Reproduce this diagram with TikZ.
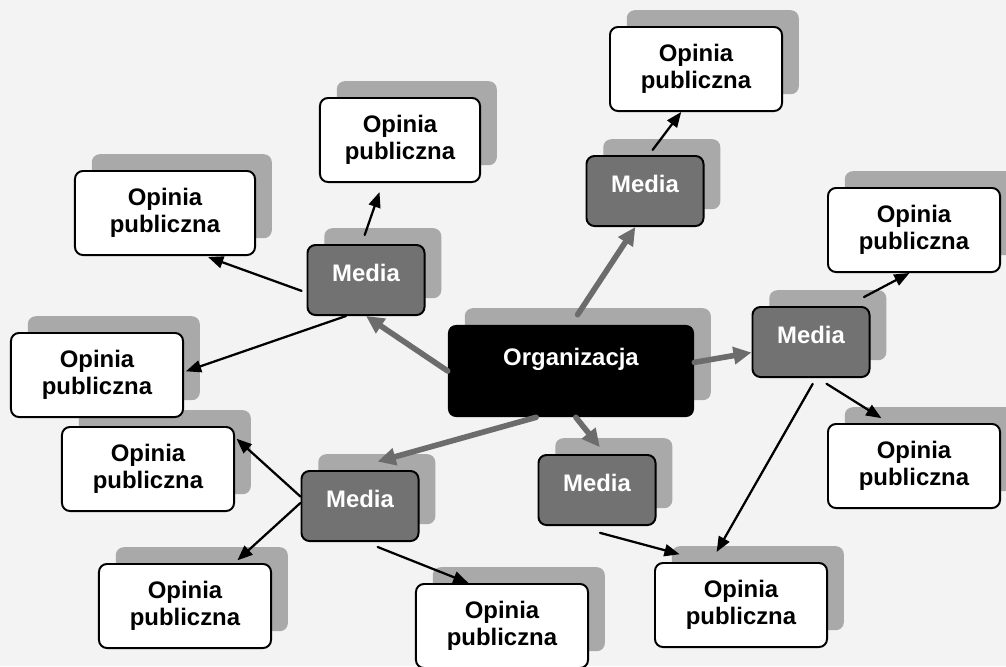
\documentclass[tikz,border=0pt]{standalone}
\usepackage{fontspec}
\setmainfont{Liberation Sans}
\usetikzlibrary{arrows.meta}
\usetikzlibrary{shadows}
\definecolor{paper}{HTML}{F3F3F3}
\definecolor{shade}{HTML}{A9A9A9}
\definecolor{mediafill}{HTML}{727272}
\definecolor{linkgray}{HTML}{6C6C6C}

\begin{document}
\begin{tikzpicture}[x=0.025cm, y=-0.025cm, line cap=round, line join=round, >=Triangle,
  font=\fontsize{17}{19.5}\selectfont\bfseries,
  box/.style={rounded corners=0.2cm, inner sep=0pt, align=center,
    copy shadow={shadow xshift=0.42cm, shadow yshift=0.42cm, fill=shade, draw=none}},
  org/.style={box, fill=black, text=white, minimum width=6.15cm, minimum height=2.3cm,
    text height=13pt, text depth=21pt},
  media/.style={box, draw=black, line width=1.4pt, fill=mediafill, text=white,
    minimum width=2.925cm, minimum height=1.75cm, text height=12.5pt, text depth=10pt},
  opinia/.style={box, draw=black, line width=1.4pt, fill=white,
    minimum width=4.3cm, minimum height=2.1cm},
  mainlink/.style={-{Triangle[length=0.45cm, width=0.42cm]}, draw=linkgray, line width=4pt},
  sublink/.style={-{Triangle[length=0.38cm, width=0.3cm]}, draw=black, line width=1.6pt}]
  \fill[paper] (0,0) rectangle (1006,666);
  \useasboundingbox (0,0) rectangle (1006,666);

  \node[org] (org) at (571,371) {Organizacja};

  \node[media] (m1) at (366,280) {Media};
  \node[media] (m2) at (645,191) {Media};
  \node[media] (m3) at (811,342) {Media};
  \node[media] (m4) at (360,506) {Media};
  \node[media] (m5) at (597,490) {Media};

  \node[opinia] (o1) at (696,69) {Opinia\\publiczna};
  \node[opinia, minimum width=4cm] (o2) at (400,140) {Opinia\\publiczna};
  \node[opinia, minimum width=4.5cm] (o3) at (165,213) {Opinia\\publiczna};
  \node[opinia] (o5) at (148,469) {Opinia\\publiczna};
  \node[opinia] (o4) at (97,375) {Opinia\\publiczna};
  \node[opinia] (o6) at (185,606) {Opinia\\publiczna};
  \node[opinia] (o7) at (502,626) {Opinia\\publiczna};
  \node[opinia] (o8) at (741,605) {Opinia\\publiczna};
  \node[opinia] (o9) at (914,466) {Opinia\\publiczna};
  \node[opinia] (o10) at (914,230) {Opinia\\publiczna};

  % organizacja -> media
  \draw[mainlink] (org.west) -- (m1.south);
  \draw[mainlink, shorten <=0.3cm] (org.north) -- (m2.-105);
  \draw[mainlink] (org.4) -- (m3.190);
  \draw[mainlink, shorten >=0.78cm] (org.-127) -- (m4.109);
  \draw[mainlink, shorten >=0.22cm] (org.-84) -- (m5.77);

  % media -> opinia publiczna
  \draw[sublink, shorten <=0.24cm, shorten >=0.24cm] (m1.97) -- (o2.-112);
  \draw[sublink, shorten <=0.13cm, shorten >=0.08cm] (m1.192) -- (o3.-47);
  \draw[sublink, shorten >=0.05cm] (m1.-119) -- (o4.2);
  \draw[sublink, shorten <=0.16cm] (m2.84) -- (o1.-109);
  \draw[sublink, shorten <=0.48cm] (m3.45) -- (o10.-96);
  \draw[sublink, shorten <=0.27cm, shorten >=0.23cm] (m3.-80) -- (o9.120);
  \draw[sublink, shorten <=0.17cm, shorten >=0.29cm] (m3.-82) -- (o8.125);
  \draw[sublink, shorten >=0.05cm] (m4.171) -- (o5.20);
  \draw[sublink, shorten >=0.1cm] (m4.177) -- (o6.41);
  \draw[sublink, shorten <=0.34cm] (m4.-82) -- (o7.128);
  \draw[sublink, shorten <=0.66cm, shorten >=0.75cm] (m5.-122) -- (o8.127);
\end{tikzpicture}
\end{document}
